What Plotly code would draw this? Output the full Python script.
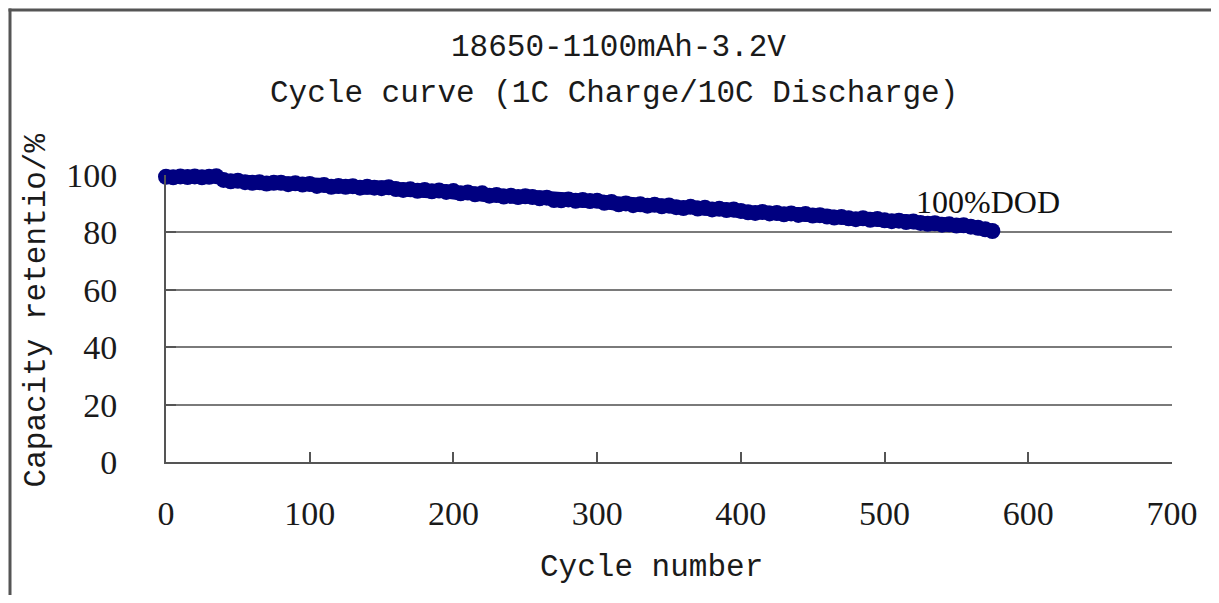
import plotly.graph_objects as go

# ---- data ----
cycles = list(range(0, 580, 5))
retention = [
    99.4, 99.2, 99.5, 99.3, 99.5, 99.2, 99.4, 99.6,
    98.3, 97.8, 98.0, 97.5, 97.3, 97.5, 97.0, 97.3, 97.3, 96.8, 97.1, 96.7, 96.9,
    96.2, 96.5, 95.9, 96.2, 95.9, 96.1, 95.6, 95.9, 95.6, 95.4, 95.7, 95.1,
    94.8, 95.0, 94.5, 94.8, 94.3, 94.6, 94.1, 94.4, 93.6, 93.9, 93.3, 93.6,
    92.8, 93.0, 92.5, 92.8, 92.3, 92.6, 92.3, 91.9, 92.1,
    91.3, 91.2, 91.5, 91.0, 91.3, 90.9, 91.0, 90.3, 90.6,
    89.8, 90.1, 89.5, 89.8, 89.3, 89.6, 89.1, 89.4, 88.8, 88.5, 88.9, 88.3, 88.6, 88.0,
    88.2, 87.8, 88.0, 87.5, 87.0, 86.8, 87.1, 86.6, 86.8, 86.3, 86.6, 86.1, 86.4, 85.9,
    86.0, 85.5, 85.2, 85.4, 84.9, 84.6, 84.9, 84.4, 84.7, 84.2, 83.9, 84.1, 83.6, 83.8,
    83.3, 83.0, 83.2, 82.7, 82.8, 82.4, 82.5, 82.0, 81.6, 81.1, 80.5,
]
n = min(len(cycles), len(retention))
cycles = cycles[:n]
retention = retention[:n]

x_ticks = [0, 100, 200, 300, 400, 500, 600, 700]
y_ticks = [0, 20, 40, 60, 80, 100]

title_line1 = "18650-1100mAh-3.2V"
title_line2 = "Cycle curve (1C Charge/10C Discharge)"
x_title = "Cycle number"
y_title = "Capacity retentio/%"
series_label = "100%DOD"

# ---- layout constants (page has an 8px body margin; keep figure inside window) ----
OFF = 8
WIN_W, WIN_H = 1219, 603
W, H = WIN_W - 2 * OFF, WIN_H - 2 * OFF
L = 166 - OFF
T = 174.5 - OFF
R = W - (1172 - OFF)
B = H - (461.7 - OFF)
pw = W - L - R
ph = H - T - B


def px(xwin):
    return (xwin - OFF - L) / pw


def py(ywin):
    return (H - B - (ywin - OFF)) / ph


mono = "Liberation Mono, DejaVu Sans Mono, monospace"
serif = "Liberation Serif, Times New Roman, serif"
navy = "#000080"

fig = go.Figure()
fig.add_trace(go.Scatter(
    x=cycles, y=retention, mode="lines+markers",
    line=dict(color=navy, width=14),
    marker=dict(color=navy, size=16, line=dict(width=0)),
    cliponaxis=False, showlegend=False, hoverinfo="x+y",
))

fig.update_layout(
    width=W, height=H,
    margin=dict(l=L, r=R, t=T, b=B, pad=0),
    paper_bgcolor="white", plot_bgcolor="white",
    showlegend=False,
    xaxis=dict(
        range=[0, 700], tickvals=x_ticks, ticktext=[str(v) for v in x_ticks],
        showgrid=False, zeroline=False,
        showline=True, linecolor="#555555", linewidth=2,
        ticks="inside", ticklen=10, tickwidth=2, tickcolor="#555555",
        tickfont=dict(family=serif, size=34, color="#1a1a1a"),
        ticklabelstandoff=20,
    ),
    yaxis=dict(
        range=[0, 100], tickvals=y_ticks, ticktext=[str(v) for v in y_ticks],
        showgrid=True, gridcolor="#7a7a7a", gridwidth=2, zeroline=False,
        showline=True, linecolor="#555555", linewidth=2,
        ticks="inside", ticklen=10, tickwidth=2, tickcolor="#555555",
        tickfont=dict(family=serif, size=34, color="#1a1a1a"),
        ticklabelstandoff=40,
    ),
    annotations=[
        dict(text=title_line1, xref="paper", yref="paper", x=px(618), y=py(47),
             xanchor="center", yanchor="middle", showarrow=False,
             font=dict(family=mono, size=31, color="#1a1a1a")),
        dict(text=title_line2, xref="paper", yref="paper", x=px(614), y=py(93),
             xanchor="center", yanchor="middle", showarrow=False,
             font=dict(family=mono, size=31, color="#1a1a1a")),
        dict(text=x_title, xref="paper", yref="paper", x=px(651), y=py(567),
             xanchor="center", yanchor="middle", showarrow=False,
             font=dict(family=mono, size=31, color="#1a1a1a")),
        dict(text=y_title, xref="paper", yref="paper", x=px(36), y=py(310),
             xanchor="center", yanchor="middle", showarrow=False, textangle=-90,
             font=dict(family=mono, size=31, color="#1a1a1a")),
        dict(text=series_label, xref="x", yref="y", x=572, y=90.6,
             xanchor="center", yanchor="middle", showarrow=False,
             font=dict(family=serif, size=32, color="#111111")),
    ],
    shapes=[
        dict(type="line", xref="paper", yref="paper",
             x0=px(10), x1=px(10), y0=py(8), y1=py(WIN_H),
             line=dict(color="#555555", width=3)),
        dict(type="line", xref="paper", yref="paper",
             x0=px(8.5), x1=px(WIN_W), y0=py(9.5), y1=py(9.5),
             line=dict(color="#555555", width=3)),
    ],
)

fig.write_html("out.html")
